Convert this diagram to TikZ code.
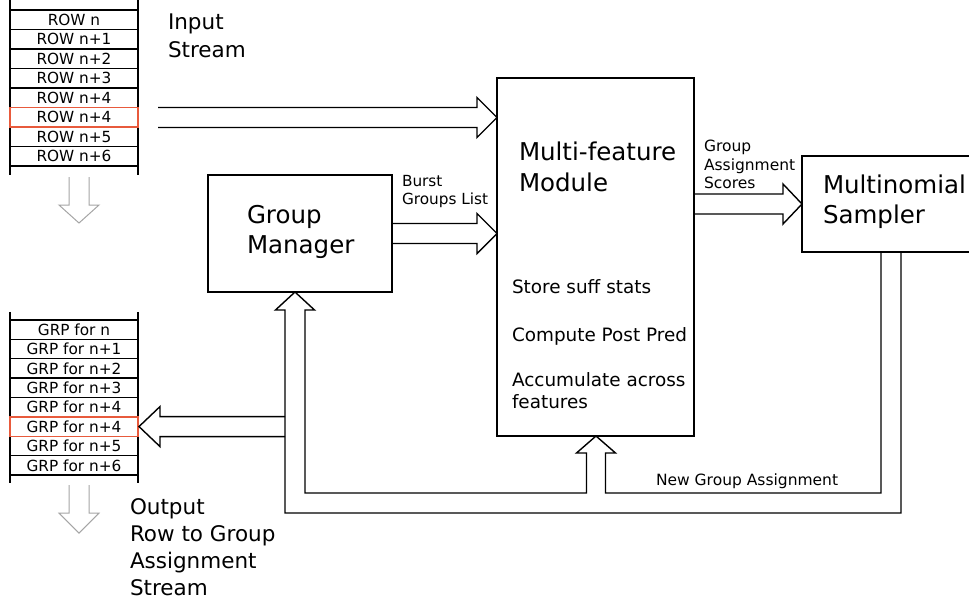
\documentclass[tikz,border=0pt]{standalone}
\usepackage{fontspec}
\setmainfont{DejaVu Sans}
\usetikzlibrary{calc}
\definecolor{redrow}{RGB}{232,90,60}
\definecolor{lightarrow}{RGB}{165,165,165}
\begin{document}
\begin{tikzpicture}[x=1pt,y=-1pt,line join=miter,
  every node/.style={inner sep=0pt,outer sep=0pt},
  box/.style={draw,line width=1.4pt},
  conn/.style={draw,line width=1.4pt},
  stackline/.style={draw,line width=1.4pt},
  redbox/.style={draw=redrow,line width=1.6pt},
  downarrow/.style={draw=lightarrow,line width=1pt},
  rowcell/.style={draw,line width=1.3pt,minimum width=128pt,minimum height=19.5pt,font=\fontsize{15.3}{18}\selectfont},
  biglbl/.style={anchor=north west,align=left,font=\fontsize{24.5}{30}\selectfont},
  streamlbl/.style={anchor=north west,align=left,font=\fontsize{21.5}{28}\selectfont},
  smalllbl/.style={anchor=north west,align=left,font=\fontsize{15.3}{18}\selectfont}]
\useasboundingbox (0,0) rectangle (969,600);
\clip (0,0) rectangle (969,600);

% input stack
\foreach \t [count=\i from 0] in {ROW n,ROW n+1,ROW n+2,ROW n+3,ROW n+4,ROW n+4,ROW n+5,ROW n+6}
  \node[rowcell] (in\i) at (74,19.75+19.5*\i) {\t};
\draw[stackline] ($(in0.north west)+(0,-10)$) -- ($(in7.south west)+(0,9)$);
\draw[stackline] ($(in0.north east)+(0,-10)$) -- ($(in7.south east)+(0,9)$);
\draw[redbox] (in5.north west) rectangle (in5.south east);

% output stack
\foreach \t [count=\i from 0] in {GRP for n,GRP for n+1,GRP for n+2,GRP for n+3,GRP for n+4,GRP for n+4,GRP for n+5,GRP for n+6}
  \node[rowcell] (out\i) at (74,329.7+19.375*\i) {\t};
\draw[stackline] ($(out0.north west)+(0,-8)$) -- ($(out7.south west)+(0,8)$);
\draw[stackline] ($(out0.north east)+(0,-8)$) -- ($(out7.south east)+(0,8)$);
\draw[redbox] (out5.north west) rectangle (out5.south east);

% gray down arrows
\coordinate (dinA) at ($(in7.south)+(5,11)$);
\draw[downarrow] ($(dinA)+(-10,0)$) -- ++(0,28) -- ++(-10,0) -- ++(20,18) -- ++(20,-18) -- ++(-10,0) -- ++(0,-28);
\coordinate (doutA) at ($(out7.south)+(5,10)$);
\draw[downarrow] ($(doutA)+(-10,0)$) -- ++(0,28) -- ++(-10,0) -- ++(20,20) -- ++(20,-20) -- ++(-10,0) -- ++(0,-28);

% boxes
\node[box,minimum width=184pt,minimum height=117pt] (gm) at (300,233.5) {};
\node[box,minimum width=197pt,minimum height=358pt] (mf) at (595.5,257) {};
\node[box,minimum width=178pt,minimum height=96pt] (sm) at (891,204) {};

% labels
\node[streamlbl] (inlbl) at (168,14.3) {Input\\Stream};
\node[streamlbl,font=\fontsize{21.5}{27}\selectfont] (outlbl) at (130,499) {Output\\Row to Group\\Assignment\\Stream};
\node[biglbl] (gmlbl) at (247,205) {Group\\Manager};
\node[biglbl,font=\fontsize{24.5}{31}\selectfont] (mflbl) at (519,142) {Multi-feature\\Module};
\node[anchor=north west,align=left,font=\fontsize{18.4}{22}\selectfont] (mfbody) at (512,279.5) {Store suff stats\\[26pt]Compute Post Pred\\[23pt]Accumulate across\\features};
\node[biglbl] (smlbl) at (823,175) {Multinomial\\Sampler};
\node[smalllbl] (burstlbl) at (402,175) {Burst\\Groups List};
\node[smalllbl,font=\fontsize{15.5}{18.5}\selectfont] (gaslbl) at (704,140) {Group\\Assignment\\Scores};
\node[anchor=base west,font=\fontsize{15.5}{18}\selectfont] (ngalbl) at (656,485.5) {New Group Assignment};

% input stream arrow
\coordinate (inTail) at (158,117.5);
\draw[conn] ($(inTail)+(0,-10)$) -- ($(mf.west|-inTail)+(-20,-10)$) -- ++(0,-10) -- (mf.west|-inTail) -- ++(-20,20) -- ++(0,-10) -- ($(inTail)+(0,10)$);

% burst groups arrow
\draw[conn] ($(gm.east)+(0,-10)$) -- ($(mf.west|-gm.east)+(-20,-10)$) -- ++(0,-10) -- (mf.west|-gm.east) -- ++(-20,20) -- ++(0,-10) -- ($(gm.east)+(0,10)$);

% group assignment scores arrow
\draw[conn] ($(mf.east|-sm.west)+(0,-10)$) -- ($(sm.west)+(-19,-10)$) -- ++(0,-10) -- (sm.west) -- ++(-19,20) -- ++(0,-10) -- ($(mf.east|-sm.west)+(0,10)$);

% feedback
\coordinate (gmT) at ([xshift=-5pt]gm.south);
\coordinate (mfT) at ([xshift=0.5pt]mf.south);
\coordinate (smB) at (sm.south);
\coordinate (outT) at ([xshift=1pt]out5.east);
\coordinate (lowIn) at (0,493);
\coordinate (lowOut) at (0,513);
\draw[conn] ($(smB)+(10,0)$) |- ($(gmT|-lowOut)+(-10,0)$) -- ($(gmT)+(-10,18)$) -- ++(-9.5,0) -- (gmT) -- ++(19.5,18) -- ++(-9.5,0) |- ($(mfT|-lowIn)+(-9.5,0)$) -- ($(mfT)+(-9.5,17)$) -- ++(-10,0) -- (mfT) -- ++(19.5,17) -- ++(-10,0) |- ($(smB|-lowIn)+(-10,0)$) -- ($(smB)+(-10,0)$);
\draw[conn] ($(gmT|-outT)+(-10,-10)$) -- ($(outT)+(21,-10)$) -- ++(0,-10) -- (outT) -- ++(21,20) -- ++(0,-10) -- ($(gmT|-outT)+(-10,10)$);
\end{tikzpicture}
\end{document}
